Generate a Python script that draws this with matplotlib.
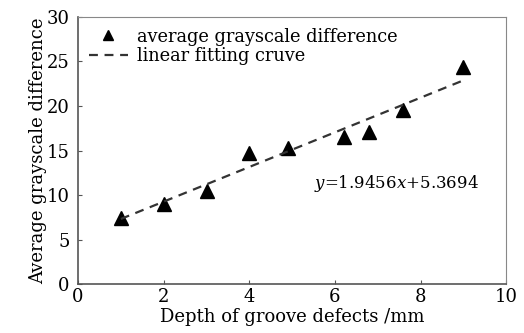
import numpy as np
import matplotlib.pyplot as plt

plt.rcParams['font.family'] = ['DejaVu Serif']
plt.rcParams['mathtext.fontset'] = 'dejavuserif'

# data
depth = [1, 2, 3, 4, 4.9, 6.2, 6.8, 7.6, 9]
gray_diff = [7.4, 9.0, 10.5, 14.7, 15.3, 16.5, 17.1, 19.5, 24.4]
slope = 1.9456
intercept = 5.3694

fig = plt.figure(figsize=(5.24, 3.33), dpi=100)
ax = fig.add_axes([0.149, 0.147, 0.817, 0.802])

ax.plot(depth, gray_diff, linestyle='none', marker='^', color='black',
        markersize=9.5, label='average grayscale difference')
fit_x = np.array([depth[0], depth[-1]])
ax.plot(fit_x, slope * fit_x + intercept, linestyle=(0, (4, 3)), color='#333333',
        linewidth=1.6, label='linear fitting cruve')

ax.text(5.5, 11.3, r'$y$=1.9456$x$+5.3694', fontsize=12, va='center')

ax.set_xlim(0, 10)
ax.set_ylim(0, 30)
ax.set_xticks([0, 2, 4, 6, 8, 10])
ax.set_yticks([0, 5, 10, 15, 20, 25, 30])
ax.tick_params(direction='in', length=3, labelsize=13, color='#555555')
ax.tick_params(axis='x', pad=3)
ax.tick_params(axis='y', pad=6)
ax.set_xlabel('Depth of groove defects /mm', fontsize=13, labelpad=1)
ax.set_ylabel('Average grayscale difference', fontsize=13, labelpad=0)

for side in ['left', 'bottom']:
    ax.spines[side].set_color('#555555')
    ax.spines[side].set_linewidth(1.2)
for side in ['top', 'right']:
    ax.spines[side].set_color('#888888')
    ax.spines[side].set_linewidth(0.8)

ax.legend(loc='upper left', frameon=False, fontsize=12.8, handlelength=2.2,
          handletextpad=0.5, borderaxespad=0.2, labelspacing=0.1,
          markerscale=0.8, bbox_to_anchor=(0.0, 1.0))

fig.savefig('out.png', dpi=100)
